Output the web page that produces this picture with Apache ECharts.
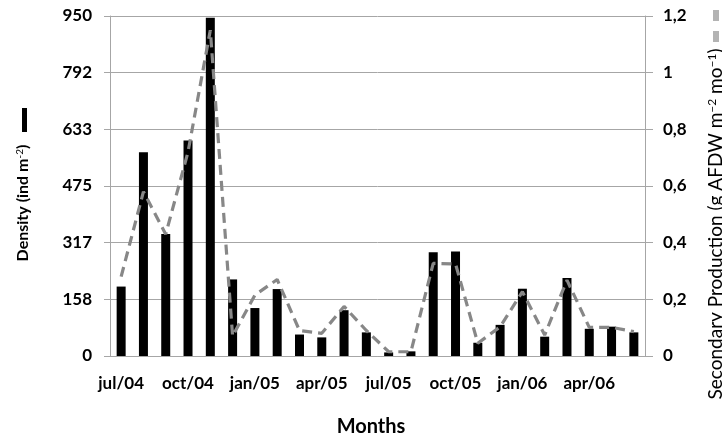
<!DOCTYPE html>
<html>
<head>
<meta charset="utf-8">
<script src="https://cdn.jsdelivr.net/npm/echarts@6/dist/echarts.min.js"></script>
<style>
html,body{margin:0;padding:0;background:#fff;}
#chart{width:722px;height:439px;}
</style>
</head>
<body>
<div id="chart"></div>
<script>
var categories = ['jul/04','aug/04','sep/04','oct/04','nov/04','dec/04','jan/05','feb/05','mar/05','apr/05','may/05','jun/05','jul/05','aug/05','sep/05','oct/05','nov/05','dec/05','jan/06','feb/06','mar/06','apr/06','may/06','jun/06'];
var density = [194,569,341,602,945,214,134,187,60,52,128,66,10,13,290,292,37,87,188,54,218,76,82,66];
var production = [0.28,0.58,0.43,0.72,1.15,0.07,0.215,0.27,0.09,0.08,0.175,0.09,0.015,0.015,0.327,0.325,0.045,0.103,0.227,0.074,0.268,0.101,0.101,0.086];
var leftTicks = ['0','158','317','475','633','792','950'];
var rightTicks = ['0','0,2','0,4','0,6','0,8','1','1,2'];

var FONT = 'Lato';
var gridColor = '#a6a6a6';
var chart = echarts.init(document.getElementById('chart'), null, {renderer:'canvas'});
var leftMax = 950, leftStep = 950/6;
chart.setOption({
  animation:false,
  backgroundColor:'#fff',
  grid:{left:110,right:77,top:16,bottom:83,containLabel:false},
  xAxis:{
    type:'category', data:categories, boundaryGap:true,
    axisLine:{show:true,lineStyle:{color:gridColor,width:1}},
    axisTick:{show:false},
    axisLabel:{interval:2,margin:19,color:'#000',fontFamily:FONT,fontWeight:'bold',fontSize:17}
  },
  yAxis:[{
    type:'value', min:0, max:leftMax, interval:leftStep, position:'left',
    axisLine:{show:true,lineStyle:{color:gridColor,width:1}},
    axisTick:{show:true,inside:false,length:6,lineStyle:{color:gridColor}},
    splitLine:{show:true,lineStyle:{color:gridColor,width:1}},
    axisLabel:{margin:18,color:'#000',fontFamily:FONT,fontWeight:'bold',fontSize:17,
      formatter:function(v){return leftTicks[Math.round(v/leftStep)];}}
  },{
    type:'value', min:0, max:1.2, interval:0.2, position:'right',
    axisLine:{show:true,lineStyle:{color:gridColor,width:1}},
    axisTick:{show:true,inside:false,length:8,lineStyle:{color:gridColor}},
    splitLine:{show:false},
    axisLabel:{margin:18,color:'#000',fontFamily:FONT,fontWeight:'bold',fontSize:17,
      formatter:function(v){return rightTicks[Math.round(v/0.2)];}}
  }],
  series:[{
    name:'Density', type:'bar', data:density, yAxisIndex:0, barWidth:9,
    itemStyle:{color:'#000'}
  },{
    name:'Secondary Production', type:'line', data:production, yAxisIndex:1,
    symbol:'none', smooth:false, z:3,
    lineStyle:{color:'#878787',width:3.2,type:[10,6]}
  }],
  graphic:[
    {type:'rect',shape:{x:22,y:108,width:5,height:24},style:{fill:'#000'}},
    {type:'rect',shape:{x:713,y:10,width:6,height:11},style:{fill:'#b3b3b3'}},
    {type:'rect',shape:{x:713,y:31,width:6,height:11},style:{fill:'#b3b3b3'}},
    {type:'text',x:23,y:203,rotation:Math.PI/2,
      style:{text:'{a|Density (ind m}{s|-2}{a|)}',align:'center',verticalAlign:'middle',
        rich:{a:{fontFamily:FONT,fontSize:16,fontWeight:'bold',color:'#111'},s:{fontFamily:FONT,fontSize:10,color:'#111',verticalAlign:'top'}}}},
    {type:'text',x:716,y:224,rotation:Math.PI/2,
      style:{text:'{a|Secondary Production (g AFDW m}{s|\u22122}{a| mo}{s|\u22121}{a|)}',align:'center',verticalAlign:'middle',
        rich:{a:{fontFamily:FONT,fontSize:19,color:'#000'},s:{fontFamily:FONT,fontSize:12,color:'#000',verticalAlign:'top'}}}},
    {type:'text',x:371,y:427,
      style:{text:'Months',align:'center',verticalAlign:'middle',fontFamily:FONT,fontSize:20,fontWeight:'bold',fill:'#000'}}
  ]
});
</script>
</body>
</html>
